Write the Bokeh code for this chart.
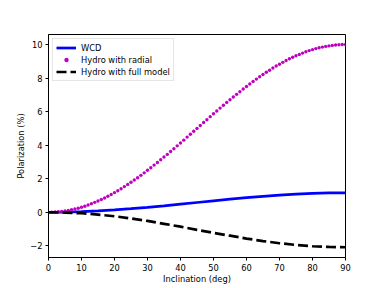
from bokeh.plotting import figure
from bokeh.models import Range1d, FixedTicker, CustomJSTickFormatter
from bokeh.embed import file_html
from bokeh.resources import INLINE

# ---- data ----
incl_line = [0, 5, 10, 15, 20, 25, 30, 35, 40, 45, 50, 55, 60, 65, 70, 75, 80, 85, 90]
wcd = [0.00, 0.01, 0.04, 0.08, 0.14, 0.21, 0.29, 0.38, 0.48, 0.58,
       0.68, 0.78, 0.87, 0.95, 1.02, 1.08, 1.13, 1.15, 1.16]
hydro_full = [0.00, -0.02, -0.06, -0.14, -0.24, -0.37, -0.52, -0.69, -0.86, -1.05,
              -1.23, -1.40, -1.57, -1.72, -1.85, -1.95, -2.03, -2.07, -2.09]

incl_dots = list(range(0, 91))
hydro_radial = [
    0.00, 0.00, 0.01, 0.03, 0.05, 0.08, 0.11, 0.15, 0.19, 0.24,
    0.30, 0.36, 0.43, 0.51, 0.59, 0.67, 0.76, 0.85, 0.95, 1.06,
    1.17, 1.28, 1.40, 1.53, 1.65, 1.79, 1.92, 2.06, 2.20, 2.35,
    2.50, 2.65, 2.81, 2.97, 3.13, 3.29, 3.45, 3.62, 3.79, 3.96,
    4.13, 4.30, 4.48, 4.65, 4.83, 5.00, 5.17, 5.35, 5.52, 5.70,
    5.87, 6.04, 6.21, 6.38, 6.55, 6.71, 6.87, 7.03, 7.19, 7.35,
    7.50, 7.65, 7.80, 7.94, 8.08, 8.21, 8.35, 8.47, 8.60, 8.72,
    8.83, 8.94, 9.05, 9.15, 9.24, 9.33, 9.41, 9.49, 9.57, 9.64,
    9.70, 9.76, 9.81, 9.85, 9.89, 9.92, 9.95, 9.97, 9.99, 10.00,
    10.00,
]

x_ticks = [0, 10, 20, 30, 40, 50, 60, 70, 80, 90]
y_ticks = [-2, 0, 2, 4, 6, 8, 10]

FONT = "DejaVu Sans"
FS = "8.3px"

p = figure(width=384, height=288, output_backend="svg", toolbar_location=None,
           x_range=Range1d(0, 90), y_range=Range1d(-2.7, 10.6),
           min_border_left=48, min_border_right=39, min_border_top=34,
           min_border_bottom=31)
p.background_fill_color = "white"
p.border_fill_color = "white"
p.outline_line_color = "black"
p.outline_line_width = 1
p.xgrid.visible = False
p.ygrid.visible = False

p.line(incl_line, wcd, line_color="#0000ff", line_width=2.7, legend_label="WCD")
p.scatter(incl_dots, hydro_radial, marker="circle", size=3.4, fill_color="#bf00bf",
          line_color="#bf00bf", line_width=0, legend_label="Hydro with radial")
p.line(incl_line, hydro_full, line_color="black", line_width=2.7, line_dash="10 4",
       legend_label="Hydro with full model")

for ax in (p.xaxis, p.yaxis):
    ax.axis_line_color = "black"
    ax.major_tick_line_color = "black"
    ax.minor_tick_line_color = None
    ax.major_tick_out = 3
    ax.major_tick_in = 0
    ax.major_label_text_font = FONT
    ax.major_label_text_font_size = FS
    ax.major_label_text_color = "black"
    ax.axis_label_text_font = FONT
    ax.axis_label_text_font_size = FS
    ax.axis_label_text_font_style = "normal"
    ax.axis_label_text_color = "black"

p.xaxis.ticker = FixedTicker(ticks=x_ticks)
p.yaxis.ticker = FixedTicker(ticks=y_ticks)
p.yaxis.formatter = CustomJSTickFormatter(
    code="return (tick < 0 ? '\\u2212' + (-tick) : '' + tick);")
p.xaxis.axis_label = "Inclination (deg)"
p.yaxis.axis_label = "Polarization (%)"
p.xaxis.major_label_standoff = 3
p.xaxis.axis_label_standoff = 0
p.yaxis.major_label_standoff = 3
p.yaxis.axis_label_standoff = 1

lg = p.legend[0]
lg.location = "top_left"
lg.margin = 4
lg.padding = 3
lg.spacing = 1
lg.glyph_width = 20
lg.glyph_height = 11
lg.label_height = 11
lg.label_standoff = 5
lg.label_text_font = FONT
lg.label_text_font_size = FS
lg.label_text_color = "black"
lg.border_line_color = "#cccccc"
lg.border_line_width = 1
lg.background_fill_alpha = 0.8

open("out.html", "w").write(file_html(p, INLINE))
